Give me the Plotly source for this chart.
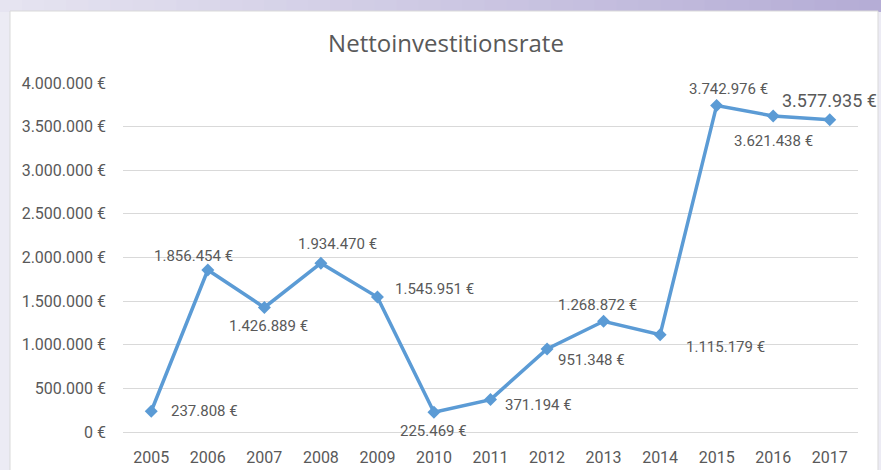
import plotly.graph_objects as go

years = ['2005', '2006', '2007', '2008', '2009', '2010', '2011',
         '2012', '2013', '2014', '2015', '2016', '2017']
values = [237808, 1856454, 1426889, 1934470, 1545951, 225469, 371194,
          951348, 1268872, 1115179, 3742976, 3621438, 3577935]
y_ticks = [0, 500000, 1000000, 1500000, 2000000, 2500000, 3000000, 3500000, 4000000]

def euro(v):
    return f"{v:,}".replace(",", ".") + " €"

# label placement per point: (xanchor, xshift, yshift)
label_pos = [('left', 18, 0), ('center', -14, 14), ('center', 4, -18), ('center', 17, 19),
             ('left', 16, 8), ('center', 0, -19), ('left', 12, -5), ('left', 9, -11),
             ('center', -6, 16), ('left', 24, -12), ('center', 12, 16), ('center', 0, -25),
             ('center', 0, 19)]

grey = '#595959'
blue = '#5B9BD5'

fig = go.Figure()
fig.add_trace(go.Scatter(
    x=years, y=values, mode='lines+markers',
    line=dict(color=blue, width=3.5),
    marker=dict(symbol='diamond', size=10, color=blue),
    showlegend=False, hoverinfo='skip'))

# category axis: annotations use the category index
for i, v in enumerate(values):
    xa, xs, ys = label_pos[i]
    fig.add_annotation(x=i, y=v, text=euro(v), showarrow=False,
                       xanchor=xa, yanchor='middle', xshift=xs, yshift=ys,
                       font=dict(family='Roboto', size=18 if i == len(values) - 1 else 15, color=grey))

# slide-like background: white chart box on lavender, gradient band on top
L, R, T, B = 123, 858, 83, 432
W, H = R - L, B - T
px = lambda x: (x - L) / W
py = lambda y: (B - y) / H

shapes = []
n = 40
c0, c1 = (230, 228, 241), (181, 173, 214)
for k in range(n):
    t = k / (n - 1)
    col = tuple(int(c0[j] + (c1[j] - c0[j]) * t) for j in range(3))
    shapes.append(dict(type='rect', xref='paper', yref='paper', layer='below',
                       x0=px(881 * k / n), x1=px(881 * (k + 1) / n) + 0.001,
                       y0=py(12), y1=py(0), fillcolor='rgb(%d,%d,%d)' % col, line_width=0))
shapes.append(dict(type='rect', xref='paper', yref='paper', layer='below',
                   x0=px(10), x1=px(878), y0=py(471), y1=py(11),
                   fillcolor='white', line=dict(color='#d9d9d9', width=1)))
fig.update_layout(shapes=shapes)

fig.update_layout(
    width=881, height=470,
    margin=dict(l=L, r=881 - R, t=T, b=470 - B, autoexpand=False),
    paper_bgcolor='#ecebf4', plot_bgcolor='white',
    title=dict(text='Nettoinvestitionsrate', xref='container', x=446 / 881, xanchor='center',
               y=1 - 44 / 470, yanchor='middle',
               font=dict(family='Open Sans', size=24, color=grey)),
    font=dict(family='Roboto', size=16, color=grey),
)
fig.update_xaxes(type='category', range=[-0.5, 12.5], showgrid=False,
                 showline=False, ticks='', ticklabelstandoff=14,
                 tickfont=dict(size=16, color=grey))
fig.update_yaxes(range=[0, 4000000], tickvals=y_ticks, ticktext=[euro(v) for v in y_ticks],
                 showgrid=True, gridcolor='#d9d9d9', gridwidth=1, zeroline=True,
                 zerolinecolor='#d9d9d9', zerolinewidth=1, ticks='', ticklabelstandoff=16,
                 tickfont=dict(size=16, color=grey))

fig.write_html("out.html", config={'displayModeBar': False},
               post_script="document.body.style.margin='0';")
